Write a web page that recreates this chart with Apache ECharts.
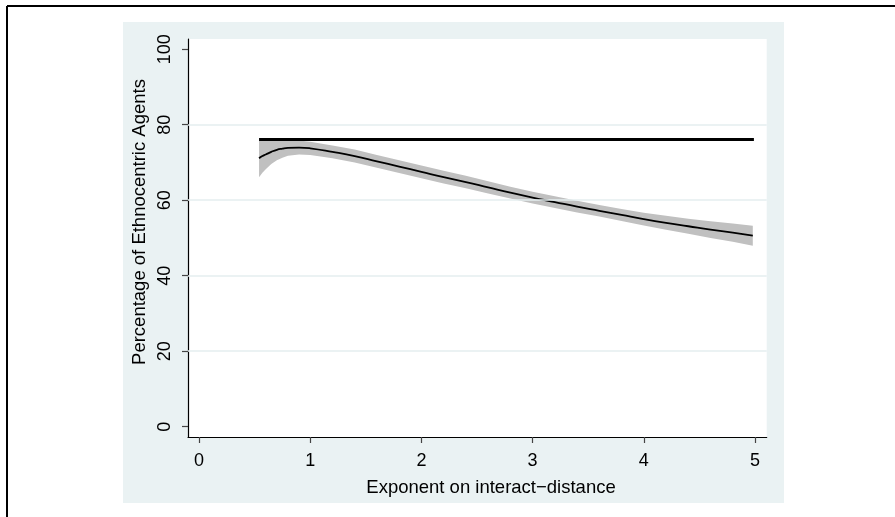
<!DOCTYPE html>
<html>
<head>
<meta charset="utf-8">
<script src="https://cdn.jsdelivr.net/npm/echarts@6/dist/echarts.min.js"></script>
<style>
html,body{margin:0;padding:0;background:#fff;}
#chart{width:895px;height:517px;}
</style>
</head>
<body>
<div id="chart"></div>
<script>
// ---- data ----
const xTickValues = [0, 1, 2, 3, 4, 5];
const yTickValues = [0, 20, 40, 60, 80, 100];
const yGridValues = [20, 40, 60, 80];

const fitX = [0.54, 0.57, 0.6, 0.65, 0.7, 0.75, 0.8, 0.9, 1.0, 1.2, 1.4, 1.6, 1.8, 2.0, 2.2, 2.4, 2.6, 2.8, 3.0, 3.2, 3.4, 3.6, 3.8, 4.0, 4.2, 4.4, 4.6, 4.8, 4.98];
const fitY = [71.1, 71.7, 72.1, 72.8, 73.35, 73.65, 73.85, 73.95, 73.75, 72.8, 71.7, 70.3, 68.9, 67.5, 66.1, 64.8, 63.4, 62.0, 60.7, 59.5, 58.3, 57.2, 56.1, 55.0, 54.0, 53.1, 52.2, 51.4, 50.6];
const ciUpper = [76.1, 76.1, 76.1, 76.1, 76.1, 76.0, 75.95, 75.8, 75.5, 74.5, 73.4, 72.0, 70.6, 69.2, 67.8, 66.45, 65.0, 63.55, 62.25, 61.05, 59.85, 58.75, 57.7, 56.7, 55.85, 55.1, 54.4, 53.8, 53.25];
const ciLower = [66.1, 67.3, 68.2, 69.6, 70.55, 71.25, 71.75, 72.1, 72.0, 71.1, 70.0, 68.6, 67.2, 65.8, 64.4, 63.15, 61.8, 60.45, 59.15, 57.95, 56.75, 55.65, 54.5, 53.3, 52.15, 51.1, 50.0, 49.0, 47.95];

const flatX = [0.54, 4.99];
const flatY = [76.1, 76.1];

const xTitle = 'Exponent on interact\u2212distance';
const yTitle = 'Percentage of Ethnocentric Agents';

// ---- build chart ----
const pairs = (xs, ys) => xs.map((x, i) => [x, ys[i]]);
const FONT = '"Liberation Sans", Arial, Helvetica, sans-serif';
const bandData = fitX.map((x, i) => [x, ciLower[i], ciUpper[i]]);

const chart = echarts.init(document.getElementById('chart'), null, {renderer: 'canvas'});
chart.setOption({
  animation: false,
  backgroundColor: '#ffffff',
  textStyle: {fontFamily: FONT},
  graphic: [
    {type: 'rect', z: -100, shape: {x: 123, y: 22, width: 661, height: 481}, style: {fill: '#eaf2f3'}},
    {type: 'line', z: 100, shape: {x1: 7, y1: 6, x2: 895, y2: 6}, style: {stroke: '#000', lineWidth: 2}},
    {type: 'line', z: 100, shape: {x1: 7, y1: 6, x2: 7, y2: 517}, style: {stroke: '#000', lineWidth: 2}},
    {type: 'text', z: 100, x: 140, y: 222, rotation: Math.PI / 2,
     style: {text: yTitle, fill: '#000', font: '18.5px ' + FONT, textAlign: 'center', textVerticalAlign: 'middle'}},
    {type: 'text', z: 100, x: 491, y: 488,
     style: {text: xTitle, fill: '#000', font: '18.5px ' + FONT, textAlign: 'center', textVerticalAlign: 'middle'}}
  ],
  grid: {left: 188, right: 128.3, top: 39, bottom: 80, show: true, backgroundColor: '#ffffff', borderWidth: 0},
  xAxis: {
    type: 'value', min: -0.099, max: 5.105,
    axisLine: {show: true, onZero: false, lineStyle: {color: '#000', width: 1.2}},
    axisTick: {show: true, length: 6, customValues: xTickValues, lineStyle: {color: '#444', width: 1.2}},
    axisLabel: {customValues: xTickValues, margin: 15, color: '#000', fontSize: 18, fontFamily: FONT},
    splitLine: {show: false}
  },
  yAxis: {
    type: 'value', min: -2.73, max: 102.7,
    axisLine: {show: true, onZero: false, lineStyle: {color: '#000', width: 1.2}},
    axisTick: {show: true, length: 6, customValues: yTickValues, lineStyle: {color: '#444', width: 1.2}},
    axisLabel: {customValues: yTickValues, rotate: 90, margin: 14, color: '#000', fontSize: 18, fontFamily: FONT},
    splitLine: {show: false}
  },
  series: [
    {
      name: 'grid', type: 'line', data: [], silent: true, z: 1,
      markLine: {silent: true, symbol: 'none', label: {show: false},
        lineStyle: {color: '#e4eeef', width: 1.6, type: 'solid'},
        data: yGridValues.map(v => ({yAxis: v}))}
    },
    {
      name: 'ciBand', type: 'custom', silent: true, z: 2,
      data: bandData,
      encode: {x: 0, y: [1, 2]},
      renderItem: function (params, api) {
        if (params.dataIndex !== 0) return null;
        const upper = bandData.map(d => api.coord([d[0], d[2]]));
        const lower = bandData.map(d => api.coord([d[0], d[1]])).reverse();
        return {
          type: 'polygon',
          shape: {points: upper.concat(lower)},
          style: {fill: '#c0c0c0', stroke: null}
        };
      }
    },
    {
      name: 'fit', type: 'line', symbol: 'none', smooth: true, z: 3,
      lineStyle: {color: '#000', width: 1.8}, data: pairs(fitX, fitY)
    },
    {
      name: 'flat', type: 'line', symbol: 'none', z: 4,
      lineStyle: {color: '#000', width: 3}, data: pairs(flatX, flatY)
    }
  ]
});
</script>
</body>
</html>
